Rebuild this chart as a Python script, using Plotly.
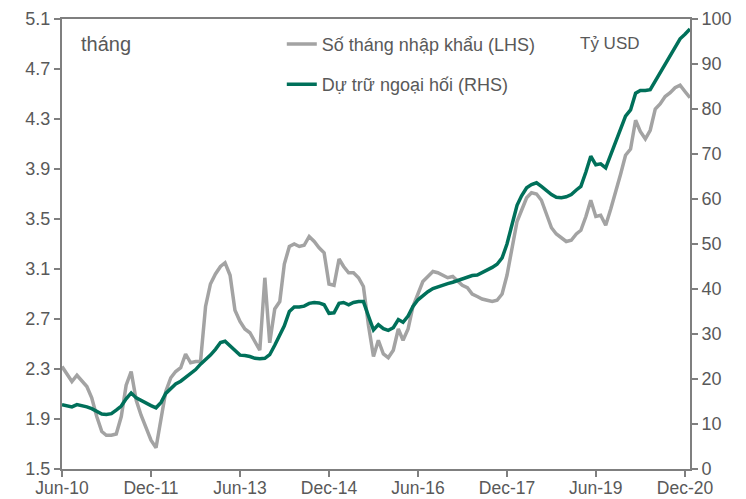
import plotly.graph_objects as go
import pandas as pd

start_month = "2010-06-01"
n_months = 128

months_of_imports = [
    2.32, 2.26, 2.20, 2.25, 2.21, 2.16, 2.07, 1.92, 1.80, 1.77,
    1.77, 1.78, 1.92, 2.17, 2.28, 2.05, 1.93, 1.83, 1.73, 1.67,
    1.90, 2.12, 2.23, 2.28, 2.31, 2.42, 2.35, 2.36, 2.36, 2.80,
    2.98, 3.06, 3.12, 3.15, 3.05, 2.77, 2.68, 2.62, 2.59, 2.52,
    2.45, 3.03, 2.51, 2.78, 2.84, 3.14, 3.28, 3.30, 3.28, 3.29,
    3.36, 3.32, 3.27, 3.23, 2.98, 2.97, 3.18, 3.12, 3.07, 3.07,
    3.03, 2.96, 2.65, 2.40, 2.53, 2.42, 2.39, 2.45, 2.62, 2.53,
    2.62, 2.80, 2.90, 3.00, 3.04, 3.08, 3.07, 3.05, 3.03, 3.04,
    3.00, 2.97, 2.95, 2.90, 2.88, 2.86, 2.85, 2.84, 2.85, 2.90,
    3.05, 3.25, 3.48, 3.57, 3.67, 3.71, 3.70, 3.65, 3.53, 3.43,
    3.38, 3.35, 3.32, 3.33, 3.38, 3.41, 3.52, 3.65, 3.52, 3.53,
    3.45, 3.58, 3.71, 3.86, 4.01, 4.06, 4.29, 4.20, 4.14, 4.21,
    4.38, 4.42, 4.48, 4.51, 4.55, 4.57, 4.52, 4.47,
]

fx_reserves = [
    14.3, 14.0, 13.8, 14.3, 14.1, 13.8, 13.4, 12.8, 12.2, 12.1,
    12.3, 13.1, 14.0, 15.6, 16.9, 15.8, 15.2, 14.7, 14.1, 13.6,
    14.8, 16.8, 17.9, 18.9, 19.5, 20.3, 21.2, 22.1, 23.3, 24.3,
    25.3, 26.6, 28.1, 28.4, 27.4, 26.2, 25.3, 25.2, 25.0, 24.6,
    24.5, 24.6, 25.4, 27.5, 29.6, 31.8, 35.0, 36.0, 36.0, 36.2,
    36.8, 37.0, 36.9, 36.5, 34.6, 34.7, 36.8, 37.0, 36.5, 37.0,
    37.2, 37.2, 34.0, 30.9, 32.1, 31.2, 30.8, 31.4, 33.2, 32.6,
    34.0, 36.1, 37.6, 38.6, 39.4, 40.1, 40.5, 40.8, 41.2, 41.5,
    41.9, 42.3, 42.8, 43.0, 43.1, 43.6, 44.3, 44.8, 45.5, 46.9,
    50.0, 54.4, 58.6, 60.7, 62.5, 63.2, 63.6, 62.8, 61.9, 61.0,
    60.4, 60.3, 60.5, 61.0, 62.0, 62.8, 66.0, 69.5, 67.6, 67.8,
    66.9, 69.8, 72.7, 75.6, 78.4, 79.8, 83.5, 84.1, 84.1, 84.3,
    86.2, 88.0, 89.9, 91.9, 94.0, 95.6, 96.6, 97.8,
]

tick_dates = ["2010-06-01", "2011-12-01", "2013-06-01", "2014-12-01",
              "2016-06-01", "2017-12-01", "2019-06-01", "2020-12-01"]
tick_labels = ["Jun-10", "Dec-11", "Jun-13", "Dec-14",
               "Jun-16", "Dec-17", "Jun-19", "Dec-20"]
left_ticks = [1.5, 1.9, 2.3, 2.7, 3.1, 3.5, 3.9, 4.3, 4.7, 5.1]
right_ticks = list(range(0, 101, 10))

dates = pd.date_range(start_month, periods=n_months, freq="MS")

GREY = "#a3a3a3"
GREEN = "#00705a"
TXT = "#595959"
AX = "#7f7f7f"
FONT = "Liberation Sans, Arial, sans-serif"

fig = go.Figure()
fig.add_trace(go.Scatter(x=dates, y=months_of_imports, mode="lines",
                         name="Số tháng nhập khẩu (LHS)", legendgroup="a",
                         line=dict(color=GREY, width=3.5), yaxis="y"))
fig.add_trace(go.Scatter(x=dates, y=fx_reserves, mode="lines",
                         name="Dự trữ ngoại hối (RHS)", legendgroup="b",
                         line=dict(color=GREEN, width=3.5), yaxis="y2"))

fig.update_layout(
    width=738, height=491,
    margin=dict(l=54, r=56, t=11, b=30, autoexpand=False),
    paper_bgcolor="white", plot_bgcolor="white",
    font=dict(family=FONT, size=18, color=TXT),
    showlegend=True,
    legend=dict(x=0.35, y=0.985, xanchor="left", yanchor="top",
                bgcolor="rgba(0,0,0,0)", traceorder="grouped",
                tracegroupgap=14, font=dict(size=18, color=TXT)),
    xaxis=dict(type="date", range=["2010-06-01", "2021-01-01"],
               tickvals=tick_dates, ticktext=tick_labels, automargin=False,
               showgrid=False, zeroline=False,
               showline=True, linecolor=AX, linewidth=2, mirror=True,
               ticks="outside", ticklen=6, tickcolor=AX, tickwidth=1.5,
               ticklabelstandoff=-4,
               tickfont=dict(size=17.5, color=TXT)),
    yaxis=dict(range=[1.5, 5.1], tickvals=left_ticks, automargin=False,
               ticktext=[f"{v:.1f}" for v in left_ticks],
               showgrid=False, zeroline=False,
               showline=True, linecolor=AX, linewidth=2,
               ticks="outside", ticklen=6, tickcolor=AX, tickwidth=1.5,
               tickfont=dict(size=18, color=TXT)),
    yaxis2=dict(range=[0, 100], tickvals=right_ticks, overlaying="y",
                side="right", showgrid=False, zeroline=False, automargin=False,
                showline=True, linecolor=AX, linewidth=2,
                ticks="outside", ticklen=6, tickcolor=AX, tickwidth=1.5,
                tickfont=dict(size=18, color=TXT)),
    annotations=[
        dict(text="tháng", x=0.027, y=0.945, xref="paper", yref="paper",
             xanchor="left", yanchor="middle", showarrow=False,
             font=dict(size=20, color=TXT)),
        dict(text="Tỷ USD", x=0.822, y=0.945, xref="paper", yref="paper",
             xanchor="left", yanchor="middle", showarrow=False,
             font=dict(size=17, color=TXT)),
    ],
)

fig.write_html("out.html")
